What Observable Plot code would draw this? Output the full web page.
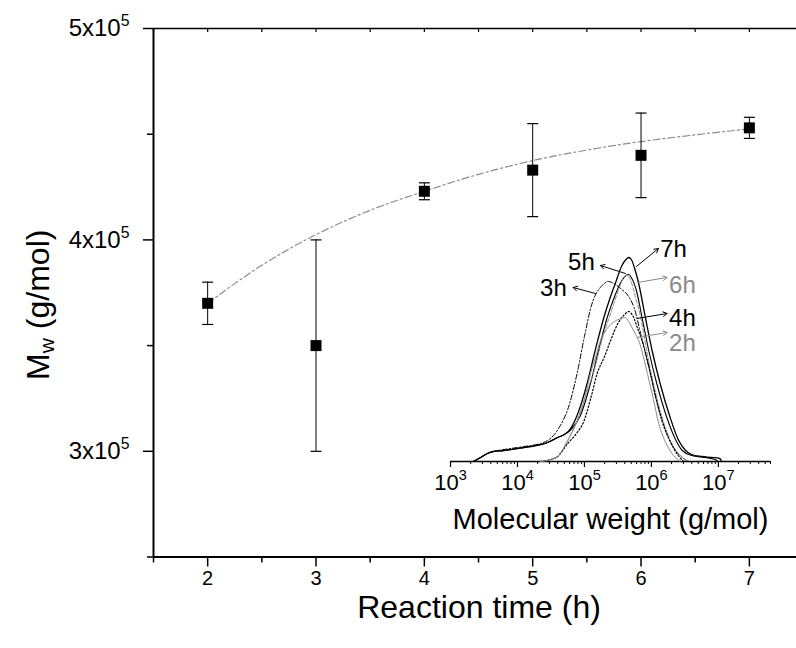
<!DOCTYPE html>
<html><head><meta charset="utf-8">
<script src="https://cdn.jsdelivr.net/npm/d3@7"></script>
<script src="https://cdn.jsdelivr.net/npm/@observablehq/plot@0.6"></script>
<style>
html,body{margin:0;padding:0;background:#fff;overflow:hidden}
#wrap{position:relative;width:796px;height:648px}
#wrap svg{position:absolute;left:0;top:0}
</style>
</head><body><div id="wrap"></div>
<script>
// ---------- main chart data ----------
const times = [2, 3, 4, 5, 6, 7];
const mw    = [3.70e5, 3.50e5, 4.23e5, 4.33e5, 4.40e5, 4.53e5];
const mwErr = [0.10e5, 0.50e5, 0.04e5, 0.22e5, 0.20e5, 0.05e5];
const fitT  = [2, 2.5, 3, 3.5, 4, 4.5, 5, 5.5, 6, 6.5, 7];
const fitMw = [3.700e5, 3.880e5, 4.025e5, 4.140e5, 4.230e5, 4.310e5, 4.375e5, 4.425e5, 4.465e5, 4.497e5, 4.525e5];
const xMajorTicks = [2, 3, 4, 5, 6, 7];
const xMinorTicks = [1.5, 2.5, 3.5, 4.5, 5.5, 6.5];
const yMajorTicks = [3e5, 4e5, 5e5];
const yMinorTicks = [2.5e5, 3.5e5, 4.5e5];
const xTitle = "Reaction time (h)";
const yTitle = "M_w (g/mol)";

// ---------- inset data (log10 M, intensity a.u.) ----------
const gpc7h = [[3.34,0],[3.45,4],[3.55,8],[3.64,10],[3.8,11],[4.0,13],[4.2,15],[4.35,17],[4.45,19],[4.6,24],[4.7,27],[4.76,30],[4.89,46],[5.04,78],[5.16,111],[5.29,144],[5.38,163],[5.46,178],[5.56,196],[5.62,202],[5.66,204],[5.7,202],[5.75,193],[5.81,178],[5.91,144],[6.01,111],[6.13,78],[6.28,44],[6.4,22],[6.51,11],[6.6,7],[6.75,5],[6.9,4],[7.02,3],[7.05,0]];
const gpc5h = [[3.34,0],[3.45,4],[3.55,8],[3.64,10],[3.8,11],[4.0,13],[4.2,15],[4.35,17],[4.45,19],[4.6,24],[4.7,27],[4.8,32],[4.94,46],[5.09,78],[5.21,111],[5.34,144],[5.45,165],[5.55,180],[5.62,186],[5.66,187],[5.7,184],[5.78,170],[5.86,144],[5.96,111],[6.08,78],[6.23,44],[6.36,22],[6.46,11],[6.6,6],[6.8,4],[6.95,2],[7.0,0]];
const gpc3h = [[3.34,0],[3.45,4],[3.55,8],[3.64,10],[3.8,12],[4.0,14],[4.2,16],[4.35,18],[4.45,21],[4.55,27],[4.64,36],[4.75,52],[4.89,88],[5.0,125],[5.1,155],[5.16,166],[5.25,175],[5.36,180],[5.46,177],[5.56,172],[5.66,165],[5.74,154],[5.86,122],[5.985,88],[6.08,60],[6.18,38],[6.3,18],[6.4,8],[6.5,2],[6.55,0]];
const gpc6h = [[4.34,0],[4.5,2],[4.6,5],[4.75,21],[4.85,35],[4.94,50],[5.04,70],[5.14,90],[5.26,121],[5.36,142],[5.44,158],[5.52,174],[5.6,185],[5.64,186],[5.69,181],[5.76,165],[5.84,144],[5.93,111],[6.03,78],[6.16,44],[6.25,25],[6.36,11],[6.45,5],[6.55,0]];
const gpc4h = [[4.34,0],[4.5,2],[4.6,5],[4.75,18],[4.88,28],[4.99,40],[5.09,62],[5.19,88],[5.3,105],[5.39,121],[5.5,138],[5.6,147],[5.66,150],[5.72,146],[5.8,132],[5.86,121],[5.985,88],[6.08,60],[6.16,40],[6.28,20],[6.4,6],[6.48,0]];
const gpc2h = [[4.34,0],[4.5,2],[4.6,5],[4.75,21],[4.89,40],[5.0,62],[5.09,88],[5.17,105],[5.24,121],[5.34,133],[5.45,140],[5.55,143],[5.6,144],[5.66,140],[5.74,130],[5.81,121],[5.94,88],[6.03,62],[6.11,38],[6.22,18],[6.33,6],[6.43,0]];

const seriesNames  = ["7h", "5h", "3h", "6h", "4h", "2h"];
const seriesData   = [gpc7h, gpc5h, gpc3h, gpc6h, gpc4h, gpc2h];
const seriesColor  = ["#000000", "#000000", "#000000", "#8a8a8a", "#000000", "#8a8a8a"];
const seriesDash   = [null, null, "5,2,1.5,2", "4,2", "1.5,2", null];
const seriesWidth  = [1.3, 1.1, 1.0, 1.0, 1.2, 1.0];
// label positions and arrows (log10 M, intensity)
const labelLogM    = [6.33, 4.955, 4.537, 6.463, 6.463, 6.463];
const labelInt     = [212, 199, 173, 176, 143, 118];
const arrowFromLogM = [5.776, 5.612, 5.164, 5.787, 5.787, 5.787];
const arrowFromInt  = [195, 188, 168, 179, 143, 124];
const arrowToLogM   = [6.104, 5.239, 4.831, 6.234, 6.234, 6.234];
const arrowToInt    = [213, 196, 174, 184, 148, 129];
const insetMajor = [1e3, 1e4, 1e5, 1e6, 1e7];
const insetTitle = "Molecular weight (g/mol)";

const insetMinor = [];
for (let e = 3; e <= 7; e++) for (let k = 2; k <= 9; k++) { const v = k * 10 ** e; if (v <= 6e7) insetMinor.push(v); }

const font = "'Liberation Sans', Arial, Helvetica, sans-serif";

const points = times.map((t, i) => ({t, mw: mw[i], err: mwErr[i]}));
const fit = fitT.map((t, i) => ({t, mw: fitMw[i]}));
const capSymbol = {draw(ctx, size) { const w = Math.sqrt(size / Math.PI); ctx.moveTo(-w, 0); ctx.lineTo(w, 0); }};

const main = Plot.plot({
  width: 796, height: 648,
  marginLeft: 153, marginRight: 0, marginTop: 28, marginBottom: 91.5,
  x: {domain: [1.5, 7.435]},
  y: {domain: [2.5e5, 5e5]},
  style: {fontFamily: font, color: "black", background: "white"},
  marks: [
    Plot.axisX(xMajorTicks, {tickSize: 10, tickPadding: 4, fontSize: 20, label: null, strokeWidth: 1.5, tickFormat: d => String(d)}),
    Plot.axisX(xMinorTicks, {tickSize: 6, label: null, strokeWidth: 1.5, tickFormat: () => ""}),
    Plot.axisX(xMinorTicks.concat(xMajorTicks), {anchor: "top", tickSize: -3, label: null, strokeWidth: 1.2, tickFormat: () => ""}),
    Plot.axisY(yMajorTicks, {tickSize: 10, tickPadding: 14, fontSize: 24, label: null, strokeWidth: 1.5, tickFormat: d => `${d / 1e5}x10^5`}),
    Plot.axisY(yMinorTicks, {tickSize: 6, label: null, strokeWidth: 1.5, tickFormat: () => ""}),
    Plot.ruleX([1.5], {strokeWidth: 2}),
    Plot.ruleY([2.5e5], {strokeWidth: 2}),
    Plot.ruleY([5e5], {strokeWidth: 1.5}),
    Plot.line(fit, {x: "t", y: "mw", stroke: "#8c8c8c", strokeWidth: 1.2, strokeDasharray: "7,3,2,3", curve: "monotone-x"}),
    Plot.ruleX(points, {x: "t", y1: d => d.mw - d.err, y2: d => d.mw + d.err, stroke: "black", strokeWidth: 1}),
    Plot.dot(points, {x: "t", y: d => d.mw + d.err, symbol: capSymbol, r: 5.5, stroke: "black", strokeWidth: 1.2, fill: "none"}),
    Plot.dot(points, {x: "t", y: d => d.mw - d.err, symbol: capSymbol, r: 5.5, stroke: "black", strokeWidth: 1.2, fill: "none"}),
    Plot.dot(points, {x: "t", y: "mw", symbol: "square", r: 6.2, fill: "black", stroke: "none"}),
    Plot.text([xTitle], {frameAnchor: "bottom", lineAnchor: "middle", textAnchor: "middle", dx: 4, dy: 51, fontSize: 32, text: d => d}),
    Plot.text([yTitle], {frameAnchor: "left", lineAnchor: "middle", textAnchor: "middle", rotate: -90, dx: -115, dy: 12, fontSize: 32, text: d => d})
  ]
});

const labels = seriesNames.map((n, i) => ({n, x: 10 ** labelLogM[i], y: labelInt[i], c: seriesColor[i],
  x1: 10 ** arrowFromLogM[i], y1: arrowFromInt[i], x2: 10 ** arrowToLogM[i], y2: arrowToInt[i]}));

const insetMarks = [
  Plot.ruleY([0], {strokeWidth: 1.5}),
  Plot.axisX(insetMajor, {tickSize: 6, tickPadding: 7, fontSize: 22, label: null, strokeWidth: 1.2, tickFormat: d => `10^${Math.round(Math.log10(d))}`}),
  Plot.axisX(insetMinor, {tickSize: 3, label: null, strokeWidth: 1, tickFormat: () => ""}),
  Plot.text([insetTitle], {frameAnchor: "bottom", lineAnchor: "middle", textAnchor: "middle", dy: 58, fontSize: 29, text: d => d})
];
seriesData.forEach((s, i) => {
  insetMarks.push(Plot.line(s, {x: d => 10 ** d[0], y: d => d[1], stroke: seriesColor[i], strokeWidth: seriesWidth[i], strokeDasharray: seriesDash[i] || undefined, curve: "monotone-x"}));
});
insetMarks.push(Plot.arrow(labels, {x1: "x1", y1: "y1", x2: "x2", y2: "y2", stroke: "c", strokeWidth: 1, headLength: 7}));
insetMarks.push(Plot.text(labels, {x: "x", y: "y", text: "n", fill: "c", fontSize: 24}));

const inset = Plot.plot({
  width: 796, height: 648,
  marginLeft: 450, marginRight: 26, marginTop: 238, marginBottom: 187,
  x: {type: "log", domain: [1e3, 6e7]},
  y: {domain: [0, 223], axis: null},
  color: {type: "identity"},
  style: {fontFamily: font, color: "black", background: "transparent"},
  marks: insetMarks
});

function supify(svg) {
  const ns = "http://www.w3.org/2000/svg";
  svg.querySelectorAll("text").forEach(t => {
    const s = t.textContent;
    if (!/[\^_]/.test(s)) return;
    const parts = s.split(/([\^_]\w)/);
    while (t.firstChild) t.removeChild(t.firstChild);
    for (const p of parts) {
      if (!p) continue;
      const ts = document.createElementNS(ns, "tspan");
      if (p[0] === "^" || p[0] === "_") {
        ts.setAttribute("baseline-shift", p[0] === "^" ? "65%" : "-25%");
        ts.setAttribute("font-size", "66%");
        ts.textContent = p.slice(1);
      } else ts.textContent = p;
      t.appendChild(ts);
    }
  });
}
supify(main); supify(inset);
const wrap = document.getElementById("wrap");
wrap.appendChild(main);
wrap.appendChild(inset);
</script></body></html>
